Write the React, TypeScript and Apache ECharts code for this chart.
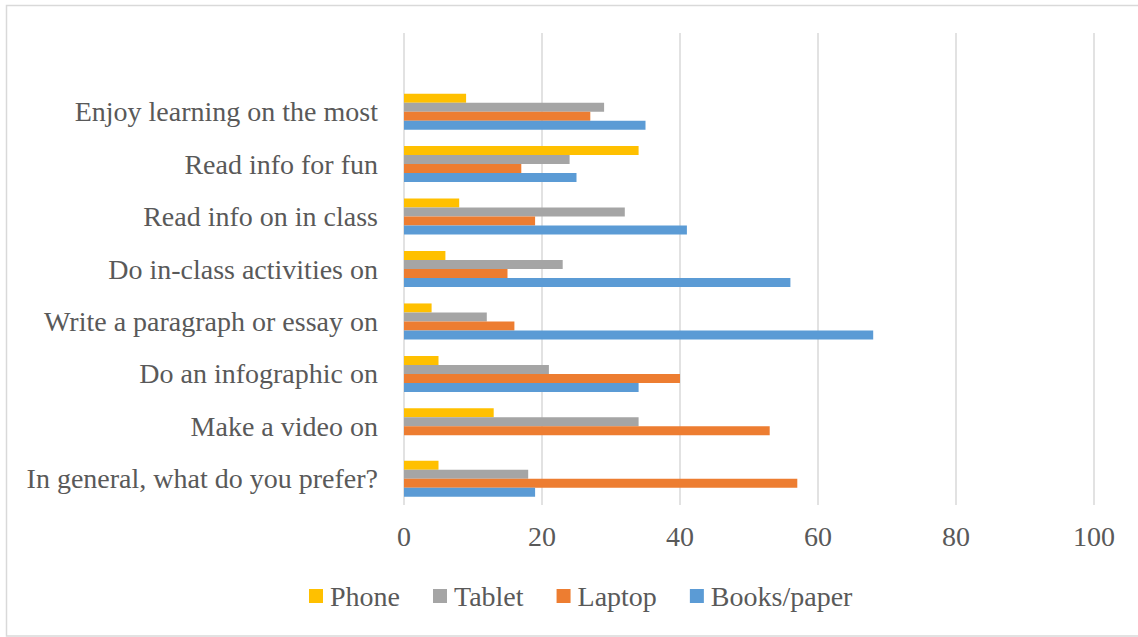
import React, { useEffect, useRef } from "react";
import * as echarts from "echarts";

// Categories listed bottom-to-top (as drawn on the y axis)
const categories = [
  "In general, what do you prefer?",
  "Make a video on",
  "Do an infographic on",
  "Write a paragraph or essay on",
  "Do in-class activities on",
  "Read info on in class",
  "Read info for fun",
  "Enjoy learning on the most",
];

const phone = [5, 13, 5, 4, 6, 8, 34, 9];
const tablet = [18, 34, 21, 12, 23, 32, 24, 29];
const laptop = [57, 53, 40, 16, 15, 19, 17, 27];
const books = [19, 0, 34, 68, 56, 41, 25, 35];

const xTicks = [0, 20, 40, 60, 80, 100];

const FONT = "'Liberation Serif', 'Times New Roman', serif";
const TEXT = "#595959";

export default function App() {
  const ref = useRef<HTMLDivElement>(null);
  useEffect(() => {
    if (!ref.current) return;
    const chart = echarts.init(ref.current, null, { renderer: "svg" });
    const cats = [...categories, ""];
    const pad = (a: number[]) => [...a, null];
    const mk = (name: string, data: number[], color: string) => ({
      name,
      type: "bar",
      data: pad(data),
      barWidth: 9,
      barGap: "0%",
      itemStyle: { color },
    });
    chart.setOption({
      animation: false,
      textStyle: { fontFamily: FONT },
      graphic: [
        {
          type: "rect",
          shape: { x: 6.5, y: 5.5, width: 1140, height: 630.5 },
          style: { fill: "none", stroke: "#d9d9d9", lineWidth: 1.5 },
          silent: true,
        },
      ],
      grid: { left: 404, right: 44, top: 33, bottom: 132, containLabel: false },
      xAxis: {
        type: "value",
        min: xTicks[0],
        max: xTicks[xTicks.length - 1],
        interval: xTicks[1] - xTicks[0],
        axisLine: { show: false },
        axisTick: { show: false },
        splitLine: { show: true, lineStyle: { color: "#d9d9d9", width: 1.5 } },
        axisLabel: { color: TEXT, fontSize: 28, fontFamily: FONT, margin: 17 },
      },
      yAxis: {
        type: "category",
        data: cats,
        axisLine: { show: false },
        axisTick: { show: false },
        axisLabel: { color: TEXT, fontSize: 28, fontFamily: FONT, margin: 26 },
      },
      legend: {
        data: ["Phone", "Tablet", "Laptop", "Books/paper"],
        left: 304,
        top: 577,
        itemWidth: 14,
        itemHeight: 14,
        itemGap: 33,
        icon: "rect",
        textStyle: { color: TEXT, fontSize: 28, fontFamily: FONT, padding: [0, 0, 0, 2] },
      },
      series: [
        mk("Phone", phone, "#FFC000"),
        mk("Tablet", tablet, "#A5A5A5"),
        mk("Laptop", laptop, "#ED7D31"),
        mk("Books/paper", books, "#5B9BD5"),
      ],
    });
    return () => chart.dispose();
  }, []);
  return (
    <div
      ref={ref}
      style={{ position: "fixed", left: 0, top: 0, width: 1138, height: 637, background: "#fff" }}
    />
  );
}
